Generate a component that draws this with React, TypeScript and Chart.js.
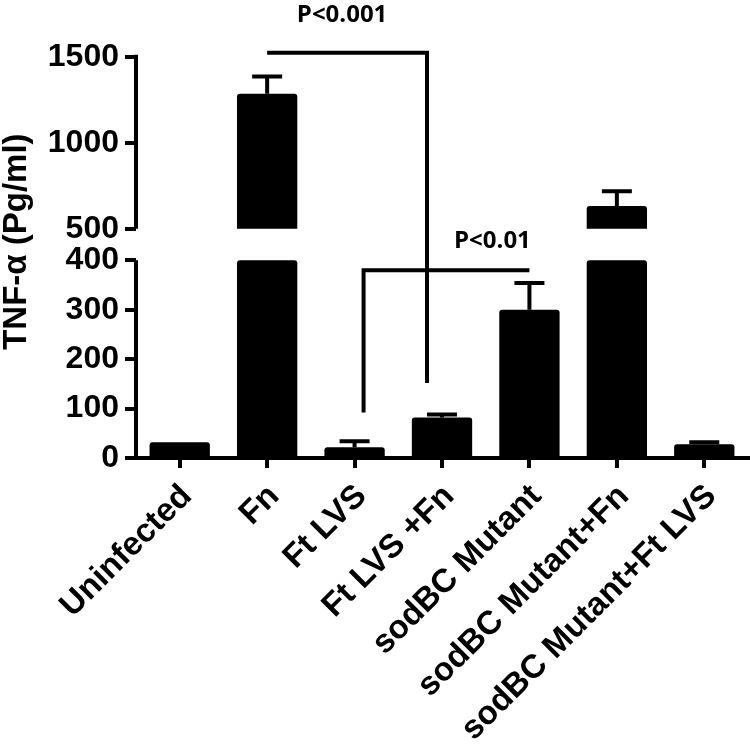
import React, { useEffect, useRef } from "react";
import { Chart, registerables } from "chart.js";

Chart.register(...registerables);

// ---- data ----
const categories = [
  "Uninfected",
  "Fn",
  "Ft LVS",
  "Ft LVS +Fn",
  "sodBC Mutant",
  "sodBC Mutant+Fn",
  "sodBC Mutant+Ft LVS",
];
const means = [32, 1285, 22, 82, 300, 632, 28];
const errors = [0, 100, 12, 6, 54, 86, 4];
const yTickValues = [0, 100, 200, 300, 400, 500, 1000, 1500];
const yTickLabels = ["0", "100", "200", "300", "400", "500", "1000", "1500"];
const yTitle = "TNF-α (Pg/ml)";
const sigLabels = ["P<0.001", "P<0.01"];

// ---- broken axis mapping ----
const LOW_MAX = 400;
const HIGH_MIN = 500;
const HIGH_MAX = 1500;
const GAP = 64;
const HIGH_SCALE = 0.348;
const v2 = (v: number) =>
  v <= LOW_MAX ? v : LOW_MAX + GAP + (v - HIGH_MIN) * HIGH_SCALE;

const FONT = "'Liberation Sans', Arial, sans-serif";

export default function App() {
  const ref = useRef<HTMLCanvasElement | null>(null);

  useEffect(() => {
    if (!ref.current) return;

    const lowData = means.map((v) => [0, Math.min(v, LOW_MAX)]);
    const highData = means.map((v) => (v > HIGH_MIN ? [v2(HIGH_MIN), v2(v)] : null));

    const extras = {
      id: "extras",
      afterDraw(chart: any) {
        const ctx = chart.ctx;
        const x = chart.scales.x;
        const y = chart.scales.y;
        const yp = (v: number) => y.getPixelForValue(v2(v));
        const xp = (i: number) => x.getPixelForValue(i);
        const left = chart.chartArea.left;
        ctx.save();
        ctx.strokeStyle = "#000";
        ctx.fillStyle = "#000";
        ctx.lineWidth = 4;
        ctx.lineCap = "butt";
        // broken y axis
        ctx.beginPath();
        ctx.moveTo(left, yp(0) + 2);
        ctx.lineTo(left, yp(LOW_MAX));
        ctx.moveTo(left, yp(HIGH_MIN));
        ctx.lineTo(left, yp(HIGH_MAX) - 2);
        ctx.stroke();
        // error bars
        means.forEach((m, i) => {
          const e = errors[i];
          if (!e) return;
          const cx = xp(i);
          ctx.beginPath();
          ctx.moveTo(cx, yp(m));
          ctx.lineTo(cx, yp(m + e));
          ctx.moveTo(cx - 15, yp(m + e));
          ctx.lineTo(cx + 15, yp(m + e));
          ctx.stroke();
        });
        // significance brackets
        ctx.lineJoin = "miter";
        const topY = yp(HIGH_MAX) - 4;
        const r1 = xp(3) - 15;
        ctx.beginPath();
        ctx.moveTo(xp(1), topY);
        ctx.lineTo(r1, topY);
        ctx.lineTo(r1, yp(152));
        ctx.stroke();
        const l2 = xp(2) + 9;
        const y2 = yp(380);
        ctx.beginPath();
        ctx.moveTo(l2, yp(92));
        ctx.lineTo(l2, y2);
        ctx.lineTo(xp(4), y2);
        ctx.stroke();
        ctx.font = "bold 24px 'Open Sans', sans-serif";
        ctx.textAlign = "center";
        ctx.textBaseline = "middle";
        ctx.fillText(sigLabels[0], (xp(1) + r1) / 2 - 5, topY - 38);
        ctx.fillText(sigLabels[1], xp(4) - 37, y2 - 29);
        ctx.restore();
      },
    };

    const chart = new Chart(ref.current, {
      type: "bar",
      data: {
        labels: categories,
        datasets: [
          {
            data: lowData as any,
            backgroundColor: "#000",
            borderRadius: { topLeft: 3, topRight: 3, bottomLeft: 0, bottomRight: 0 },
            borderSkipped: false,
            grouped: false,
            barPercentage: 0.69,
            categoryPercentage: 1,
          },
          {
            data: highData as any,
            backgroundColor: "#000",
            borderRadius: { topLeft: 3, topRight: 3, bottomLeft: 0, bottomRight: 0 },
            borderSkipped: false,
            grouped: false,
            barPercentage: 0.69,
            categoryPercentage: 1,
          },
        ],
      },
      options: {
        animation: false,
        responsive: true,
        maintainAspectRatio: false,
        layout: { padding: { left: 0, right: 2, top: 20, bottom: 0 } },
        plugins: { legend: { display: false }, tooltip: { enabled: false } },
        scales: {
          x: {
            grid: {
              offset: false,
              drawOnChartArea: false,
              drawTicks: true,
              tickLength: 10,
              lineWidth: 4,
              color: "#000",
            },
            border: { display: true, color: "#000", width: 4 },
            ticks: {
              color: "#000",
              font: { family: FONT, size: 33, weight: "bold" },
              maxRotation: 45,
              minRotation: 45,
              autoSkip: false,
              padding: 9,
              labelOffset: 7,
            },
            afterFit: (s: any) => {
              s.height = 296;
            },
          },
          y: {
            min: 0,
            max: v2(HIGH_MAX) + 64,
            afterBuildTicks: (s: any) => {
              s.ticks = yTickValues.map((v) => ({ value: v2(v) }));
            },
            afterFit: (s: any) => {
              s.width = 136;
            },
            border: { display: false },
            grid: {
              drawOnChartArea: false,
              drawTicks: true,
              tickLength: 11,
              lineWidth: 4,
              color: "#000",
            },
            ticks: {
              color: "#000",
              padding: 6,
              font: { family: FONT, size: 32, weight: "bold" },
              callback: (_v: any, i: number) => yTickLabels[i],
            },
            title: {
              display: true,
              text: yTitle,
              color: "#000",
              font: { family: FONT, size: 33, weight: "bold", lineHeight: 1 },
              padding: { top: 0, bottom: 0 },
            },
          },
        },
      },
      plugins: [extras],
    });
    return () => chart.destroy();
  }, []);

  return (
    <div style={{ position: "fixed", left: 0, top: 0, width: 750, height: 754, background: "#fff" }}>
      <canvas ref={ref} />
    </div>
  );
}
